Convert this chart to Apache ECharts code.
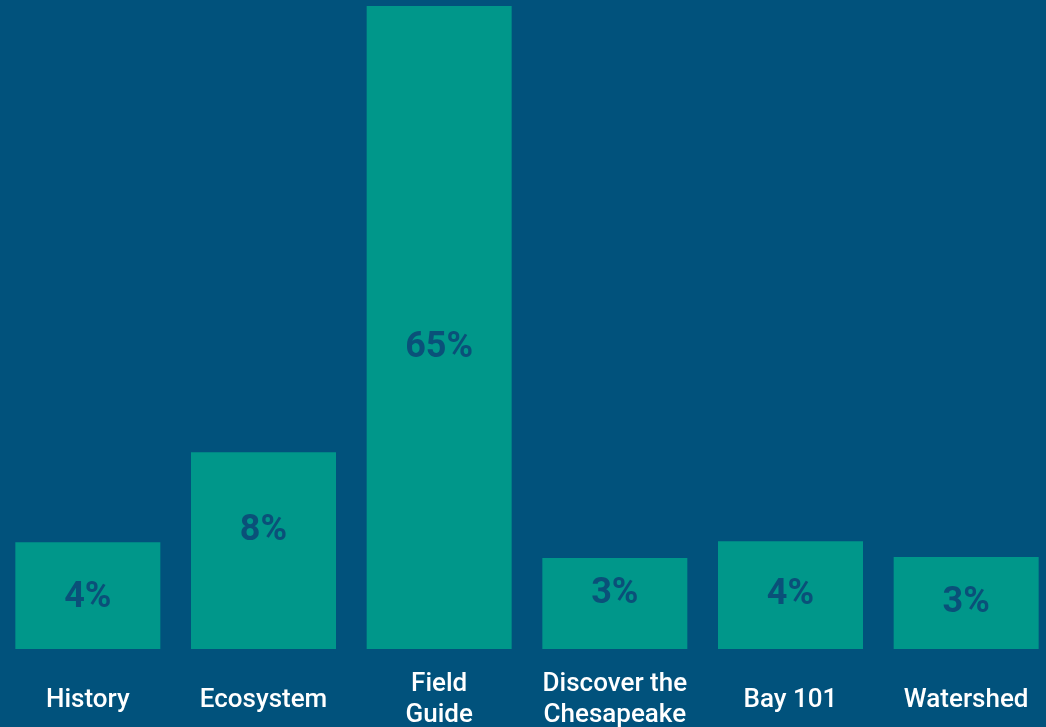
<!DOCTYPE html>
<html>
<head>
<meta charset="utf-8">
<script src="https://cdn.jsdelivr.net/npm/echarts@6/dist/echarts.min.js"></script>
<style>
  html, body { margin: 0; padding: 0; background: #01527c; }
  #chart { width: 1046px; height: 727px; }
</style>
</head>
<body>
<div id="chart"></div>
<script>
// categories along the bottom
var categories = ['History', 'Ecosystem', 'Field\nGuide', 'Discover the\nChesapeake', 'Bay 101', 'Watershed'];
// bar heights as drawn (bars are not to scale of the labels; read relative to the 65% bar)
var barHeights = [10.8, 19.9, 65, 9.2, 10.9, 9.3];
// printed labels on the bars
var percentLabels = ['4%', '8%', '65%', '3%', '4%', '3%'];
// small vertical nudges of each printed label, as in the picture
var labelNudge = [2, -20, 20, -9, 0, 0];

var myChart = echarts.init(document.getElementById('chart'));

var seriesData = barHeights.map(function (v, i) {
    return {
        value: v,
        label: { offset: [0, labelNudge[i]] }
    };
});

var option = {
    backgroundColor: '#01527c',
    animation: false,
    grid: { left: 0, top: 6, right: -8, bottom: 78, containLabel: false, outerBoundsMode: 'none' },
    xAxis: {
        type: 'category',
        data: categories,
        axisLine: { show: false },
        axisTick: { show: false },
        axisLabel: {
            color: '#ffffff',
            fontFamily: 'Roboto',
            fontWeight: 500,
            fontSize: 26,
            lineHeight: 31,
            margin: 51,
            verticalAlign: 'middle',
            interval: 0
        }
    },
    yAxis: {
        type: 'value',
        min: 0,
        max: 65,
        show: false
    },
    series: [{
        type: 'bar',
        barWidth: 145,
        data: seriesData,
        itemStyle: { color: '#00978a' },
        label: {
            show: true,
            position: 'inside',
            color: '#0a5079',
            fontFamily: 'Roboto',
            fontWeight: 'bold',
            fontSize: 36,
            formatter: function (p) { return percentLabels[p.dataIndex]; }
        }
    }]
};

myChart.setOption(option);
</script>
</body>
</html>
